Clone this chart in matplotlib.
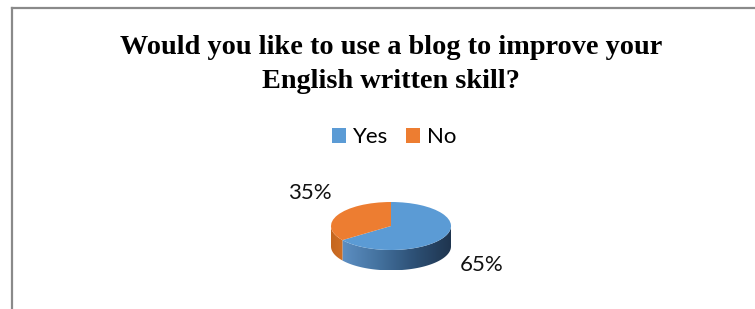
import numpy as np
import matplotlib
matplotlib.use("Agg")
import matplotlib.pyplot as plt
from matplotlib.patches import Polygon
from matplotlib.lines import Line2D
from matplotlib.colors import LinearSegmentedColormap

# data
answers = ["Yes", "No"]
shares = [65, 35]
colors = ["#5b9bd5", "#ed7d31"]
side_colors = [["#5d8fc3", "#44729f", "#2d5075", "#1f354f"],
               ["#c4661f", "#d06f25"]]
title_lines = ["Would you like to use a blog to improve your", "English written skill?"]

W, H = 755, 309
fig = plt.figure(figsize=(W / 100, H / 100), dpi=100)

# frame of the chart area (left + top edges visible)
fig.add_artist(Line2D([12 / W, 12 / W], [0, 1 - 8 / H], color="#8a8a8a", lw=1.6))
fig.add_artist(Line2D([12 / W, 1], [1 - 8 / H, 1 - 8 / H], color="#8a8a8a", lw=1.6))

# title
for i, line in enumerate(title_lines):
    fig.text(391 / W, 1 - (48 + 33 * i) / H, line, ha="center", va="center",
             family="Liberation Serif", weight="bold", fontsize=20.3)

# pie axes: 60 px per x unit, 24 px per y unit
px_x, px_y = 60, 24
cx, cy = 391, H - 226
xlim = (-2.2, 2.2)
ylim = (-2.3, 2.0)
ax = fig.add_axes([(cx + xlim[0] * px_x) / W, (cy + ylim[0] * px_y) / H,
                   (xlim[1] - xlim[0]) * px_x / W, (ylim[1] - ylim[0]) * px_y / H])

depth = 0.85
total = sum(shares)
edges = [90.0]
for s in shares:
    edges.append(edges[-1] - 360 * s / total)

# side (front half only), with horizontal shading
for i in range(len(shares)):
    a1, a0 = edges[i], edges[i + 1]  # clockwise from a1 down to a0
    if a0 < 0 < a1:
        segs = [(180, 360)] if a0 + 360 <= 180 else [(a0 + 360, 360)]
    else:
        segs = [(max(a0 % 360, 180), min(a1 % 360, 360))]
    for s0, s1 in segs:
        if s1 <= s0:
            continue
        t = np.radians(np.linspace(s0, s1, 120))
        top = np.column_stack([np.cos(t), np.sin(t)])
        bot = np.column_stack([np.cos(t[::-1]), np.sin(t[::-1]) - depth])
        poly = Polygon(np.vstack([top, bot]), closed=True, facecolor="none",
                       edgecolor="none")
        ax.add_patch(poly)
        cmap = LinearSegmentedColormap.from_list("side%d" % i, side_colors[i])
        grad = np.linspace(0, 1, 256).reshape(1, -1)
        x0, x1 = np.cos(t).min(), np.cos(t).max()
        im = ax.imshow(grad, cmap=cmap, extent=[x0, x1, -1 - depth, 0.1],
                       aspect="auto", zorder=1)
        im.set_clip_path(poly)

wedges, _ = ax.pie(shares, colors=colors, startangle=90, counterclock=False,
                   radius=1, wedgeprops=dict(linewidth=0))
for w in wedges:
    w.set_zorder(2)

# percentage labels outside the pie
for i, s in enumerate(shares):
    mid = np.radians((edges[i] + edges[i + 1]) / 2)
    ax.text(1.6 * np.cos(mid) + 0.08, 3.3 * np.sin(mid) - 0.12, "%d%%" % s,
            ha="center", va="center", family="Lato", fontsize=16, color="#111111")

ax.set_aspect("auto")
ax.set_xlim(*xlim)
ax.set_ylim(*ylim)
ax.axis("off")

fig.legend(wedges, answers, loc="center", bbox_to_anchor=(394 / W, 1 - 137 / H),
           ncol=2, frameon=False, prop=dict(family="Lato", size=16),
           handlelength=0.65, handleheight=0.65, handletextpad=0.3,
           columnspacing=0.8, borderpad=0, borderaxespad=0)

fig.savefig("out.png", dpi=100)
